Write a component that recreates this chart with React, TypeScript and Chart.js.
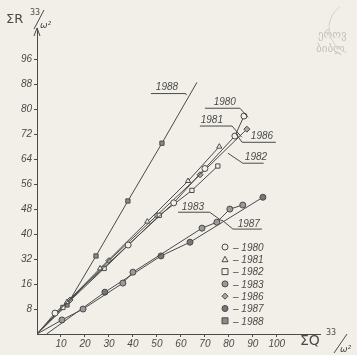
import React, { useEffect, useRef } from "react";
import { Chart, registerables } from "chart.js";
Chart.register(...registerables);

const xTickValues = [10, 20, 30, 40, 50, 60, 70, 80, 90, 100];
const yTickLabels = ["8", "16", "32", "40", "48", "56", "64", "72", "80", "88", "96"];
const years = ["1980", "1981", "1982", "1983", "1986", "1987", "1988"];

const x1980 = [0, 7.5, 38, 57, 70, 82.5, 86.3];
const y1980 = [0, 6.7, 28.5, 42, 53, 63.4, 69.8];
const x1981 = [0, 12.5, 26.3, 46, 63, 76];
const y1981 = [0, 10.2, 21, 36, 49, 60];
const x1982 = [0, 10.8, 28, 51, 64.6, 75.4];
const y1982 = [0, 8.5, 21, 38, 46, 53.8];
const x1983 = [0, 10.4, 19.2, 35.8, 40, 68.8, 75, 80.4, 85.8];
const y1983 = [0, 4.5, 8, 16.3, 19.8, 33.9, 35.8, 40, 41.3];
const x1986 = [0, 13.8, 30, 50, 68, 87.5];
const y1986 = [0, 10.9, 23.5, 38, 51, 65.6];
const x1987 = [4, 28.3, 51.7, 63.8, 94.2];
const y1987 = [0, 13.4, 25, 29.4, 43.8];
const x1988 = [0, 12.5, 24.6, 37.9, 52.1, 66.7];
const y1988 = [0, 9.3, 25, 42.6, 61.1, 80.6];

const BG = "#f1efe8";
const INK = "#4a4a4a";
const FONT = "italic 10px 'Liberation Sans'";

const styles: Record<string, { ps: string; fill: string }> = {
  "1980": { ps: "circle", fill: BG },
  "1981": { ps: "triangle", fill: BG },
  "1982": { ps: "rect", fill: BG },
  "1983": { ps: "circle", fill: "#9a9a9a" },
  "1986": { ps: "rectRot", fill: "#a8a8a8" },
  "1987": { ps: "circle", fill: "#777" },
  "1988": { ps: "rect", fill: "#8a8a8a" },
};

const seriesX = [x1980, x1981, x1982, x1983, x1986, x1987, x1988];
const seriesY = [y1980, y1981, y1982, y1983, y1986, y1987, y1988];

// annotation labels (data units): text pos, underline, leader end
const notes = [
  { t: "1988", tx: 54.2, ty: 79, u0: 47.5, u1: 62, uy: 77, lx0: 62, lx: 62.3, ly: 76.5 },
  { t: "1980", tx: 78.3, ty: 74.2, u0: 70, u1: 84.6, uy: 72.3, lx0: 84.6, lx: 88, ly: 69.4 },
  { t: "1981", tx: 72.9, ty: 68.5, u0: 67.9, u1: 81.3, uy: 66.6, lx0: 81.3, lx: 85.4, ly: 63 },
  { t: "1986", tx: 93.8, ty: 63.4, u0: 85.5, u1: 99.6, uy: 61.4, lx0: 85.5, lx: 82.9, ly: 64.2 },
  { t: "1982", tx: 91.3, ty: 56.6, u0: 85.8, u1: 94.5, uy: 54.7, lx0: 85.8, lx: 79.6, ly: 57.9 },
  { t: "1983", tx: 65, ty: 40.6, u0: 58.8, u1: 72, uy: 39, lx0: 72, lx: 77.1, ly: 36.2 },
  { t: "1987", tx: 88.3, ty: 35.2, u0: 81.7, u1: 93.8, uy: 33.6, lx0: 81.7, lx: 77.1, ly: 36.5 },
];

function drawMarker(ctx: CanvasRenderingContext2D, ps: string, fill: string, cx: number, cy: number, r: number) {
  ctx.beginPath();
  if (ps === "circle") ctx.arc(cx, cy, r, 0, Math.PI * 2);
  else if (ps === "triangle") {
    ctx.moveTo(cx, cy - r);
    ctx.lineTo(cx + r, cy + r * 0.8);
    ctx.lineTo(cx - r, cy + r * 0.8);
    ctx.closePath();
  } else if (ps === "rect") ctx.rect(cx - r, cy - r, 2 * r, 2 * r);
  else {
    ctx.moveTo(cx, cy - r);
    ctx.lineTo(cx + r, cy);
    ctx.lineTo(cx, cy + r);
    ctx.lineTo(cx - r, cy);
    ctx.closePath();
  }
  ctx.fillStyle = fill;
  ctx.fill();
  ctx.strokeStyle = INK;
  ctx.lineWidth = 1;
  ctx.stroke();
}

const decor = {
  id: "decor",
  beforeDraw(chart: any) {
    const ctx = chart.ctx;
    ctx.save();
    ctx.fillStyle = BG;
    ctx.fillRect(0, 0, chart.width, chart.height);
    ctx.restore();
  },
  afterDraw(chart: any) {
    const ctx: CanvasRenderingContext2D = chart.ctx;
    const xs = chart.scales.x;
    const ys = chart.scales.y;
    const px = (v: number) => xs.getPixelForValue(v);
    const py = (v: number) => ys.getPixelForValue(v);
    const area = chart.chartArea;
    ctx.save();
    ctx.strokeStyle = INK;
    ctx.fillStyle = INK;
    ctx.lineWidth = 1;
    // y arrow
    ctx.beginPath();
    ctx.moveTo(area.left - 3, area.top + 8);
    ctx.lineTo(area.left, area.top);
    ctx.lineTo(area.left + 3, area.top + 8);
    ctx.stroke();
    // annotations
    ctx.font = FONT;
    ctx.textAlign = "center";
    ctx.textBaseline = "middle";
    for (const n of notes) {
      ctx.fillText(n.t, px(n.tx), py(n.ty));
      ctx.beginPath();
      ctx.moveTo(px(n.u0), py(n.uy));
      ctx.lineTo(px(n.u1), py(n.uy));
      ctx.moveTo(px(n.lx0), py(n.uy));
      ctx.lineTo(px(n.lx), py(n.ly));
      ctx.stroke();
    }
    // legend
    const lx = 225;
    let ly = 247;
    ctx.textAlign = "left";
    for (const yr of years) {
      const st = styles[yr];
      drawMarker(ctx, st.ps, st.fill, lx, ly, 3);
      ctx.fillStyle = INK;
      ctx.fillText("– " + yr, lx + 8, ly + 1);
      ly += 12.3;
    }
    // axis titles
    ctx.font = "13px 'DejaVu Sans'";
    ctx.fillText("ΣR", 6, 20);
    ctx.font = "8px 'DejaVu Sans'";
    ctx.fillText("33", 30, 13);
    ctx.beginPath();
    ctx.moveTo(34, 29);
    ctx.lineTo(44, 10);
    ctx.stroke();
    ctx.font = "italic 9px 'DejaVu Sans'";
    ctx.fillText("ω²", 40, 26);
    ctx.font = "14px 'DejaVu Sans'";
    ctx.fillText("ΣQ", 300, 341);
    ctx.font = "8px 'DejaVu Sans'";
    ctx.fillText("33", 326, 333);
    ctx.beginPath();
    ctx.moveTo(334, 353);
    ctx.lineTo(347, 334);
    ctx.stroke();
    ctx.font = "italic 9px 'DejaVu Sans'";
    ctx.fillText("ω²", 340, 350);
    // faint stamp
    ctx.fillStyle = "#c4c2bc";
    ctx.strokeStyle = "#d4d2cc";
    ctx.font = "11px 'DejaVu Sans'";
    ctx.fillText("ეროვ", 318, 35);
    ctx.fillText("ბიბლ", 316, 49);
    ctx.beginPath();
    ctx.arc(355, 28, 26, Math.PI * 0.6, Math.PI * 1.3);
    ctx.stroke();
    ctx.restore();
  },
};

export default function App() {
  const ref = useRef<HTMLCanvasElement | null>(null);
  useEffect(() => {
    document.body.style.margin = "0";
    const canvas = ref.current;
    if (!canvas) return;
    const datasets = years.map((yr, i) => {
      const st = styles[yr];
      const xsArr = seriesX[i];
      const ysArr = seriesY[i];
      const last = xsArr.length - 1;
      return {
        label: yr,
        data: xsArr.map((x, j) => ({ x, y: ysArr[j] })),
        borderColor: INK,
        borderWidth: 1,
        backgroundColor: st.fill,
        pointStyle: st.ps as any,
        pointBorderColor: INK,
        pointBackgroundColor: st.fill,
        pointBorderWidth: 1,
        pointRadius: (c: any) => (c.dataIndex === 0 || (yr === "1988" && c.dataIndex === last) ? 0 : 3),
        showLine: true,
        fill: false,
        tension: 0,
      };
    });
    const chart = new Chart(canvas, {
      type: "scatter",
      data: { datasets },
      options: {
        animation: false,
        responsive: false,
        layout: { padding: { top: 28, right: 37, left: 0, bottom: 0 } },
        plugins: { legend: { display: false }, tooltip: { enabled: false } },
        scales: {
          x: {
            type: "linear",
            min: 0,
            max: 118,
            afterBuildTicks: (s: any) => {
              s.ticks = xTickValues.map((v) => ({ value: v }));
            },
            afterFit: (s: any) => {
              s.height = 21;
            },
            ticks: { color: INK, font: { family: "Liberation Sans", style: "italic", size: 10 }, padding: 1, maxRotation: 0, autoSkip: false, callback: (v: any) => String(v) },
            grid: { drawOnChartArea: false, tickLength: 3, color: INK },
            border: { display: true, color: INK, width: 1 },
          },
          y: {
            type: "linear",
            min: 0,
            max: 98,
            afterBuildTicks: (s: any) => {
              s.ticks = yTickLabels.map((_, i) => ({ value: (i + 1) * 8 }));
            },
            afterFit: (s: any) => {
              s.width = 37;
            },
            ticks: {
              color: INK,
              font: { family: "Liberation Sans", style: "italic", size: 10 },
              padding: 2,
              autoSkip: false,
              callback: (v: any) => yTickLabels[Math.round(v / 8) - 1] ?? "",
            },
            grid: { drawOnChartArea: false, tickLength: 3, color: INK },
            border: { display: true, color: INK, width: 1 },
          },
        },
      },
      plugins: [decor],
    });
    return () => chart.destroy();
  }, []);
  return <canvas ref={ref} width={357} height={355} style={{ display: "block", width: 357, height: 355 }} />;
}
